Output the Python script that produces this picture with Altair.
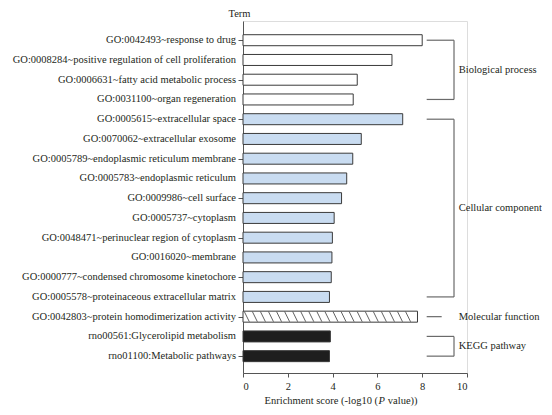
import altair as alt
import pandas as pd

# ---------------- data ----------------
terms = [
    "GO:0042493~response to drug",
    "GO:0008284~positive regulation of cell proliferation",
    "GO:0006631~fatty acid metabolic process",
    "GO:0031100~organ regeneration",
    "GO:0005615~extracellular space",
    "GO:0070062~extracellular exosome",
    "GO:0005789~endoplasmic reticulum membrane",
    "GO:0005783~endoplasmic reticulum",
    "GO:0009986~cell surface",
    "GO:0005737~cytoplasm",
    "GO:0048471~perinuclear region of cytoplasm",
    "GO:0016020~membrane",
    "GO:0000777~condensed chromosome kinetochore",
    "GO:0005578~proteinaceous extracellular matrix",
    "GO:0042803~protein homodimerization activity",
    "rno00561:Glycerolipid metabolism",
    "rno01100:Metabolic pathways",
]
scores = [8.0, 6.65, 5.1, 4.92, 7.13, 5.28, 4.90, 4.63, 4.40, 4.07,
          3.99, 3.97, 3.94, 3.86, 7.79, 3.90, 3.86]
groups = (["Biological process"] * 4 + ["Cellular component"] * 10
          + ["Molecular function"] * 1 + ["KEGG pathway"] * 2)
group_names = ["Biological process", "Cellular component",
               "Molecular function", "KEGG pathway"]
group_fill = ["#ffffff", "#c9dcf1", "#ffffff", "#1e1e1e"]

df = pd.DataFrame({"term": terms, "score": scores, "group": groups,
                   "idx": list(range(len(terms)))})

# hatch texture for the molecular-function bar (decoration derived from its value)
hatch_rows = []
for i, (v, g) in enumerate(zip(scores, groups)):
    if g == "Molecular function":
        s = 0.06
        while s + 0.24 <= v - 0.02:
            hatch_rows.append({"idx": i, "x0": s, "x1": s + 0.22})
            s += 0.36
hatch_df = pd.DataFrame(hatch_rows)

# bracket annotations derived from group membership
BR_X0, BR_X1, BR_SINGLE, TXT_X = 8.2, 9.42, 8.87, 9.63
br_rows, vert_rows, txt_rows = [], [], []
for g in group_names:
    ids = [i for i, gg in enumerate(groups) if gg == g]
    first, last = min(ids), max(ids)
    txt_rows.append({"label": g, "mid": (first + last) / 2, "xt": TXT_X})
    if first == last:
        br_rows.append({"idx": first, "x0": BR_X0, "x1": BR_SINGLE})
    else:
        br_rows.append({"idx": first, "x0": BR_X0, "x1": BR_X1})
        br_rows.append({"idx": last, "x0": BR_X0, "x1": BR_X1})
        vert_rows.append({"a": first, "b": last, "x": BR_X1})
br_df = pd.DataFrame(br_rows)
vert_df = pd.DataFrame(vert_rows)
txt_df = pd.DataFrame(txt_rows)

# ---------------- styling ----------------
FONT = "Liberation Serif"
TXT = "#231f20"
AX = "#555555"
W, H = 224, 352
FS = 10.5

xscale = alt.Scale(domain=[0, 10], nice=False, zero=True)
yscale = alt.Scale(domain=[-0.72, 16.6], reverse=True, nice=False, zero=False)

x_axis = alt.Axis(values=[0, 2, 4, 6, 8, 10], title=None, grid=False,
                  tickSize=4, labelPadding=4, labelFont=FONT, labelFontSize=FS,
                  labelColor=TXT, domainColor=AX, tickColor=AX)
y_axis = alt.Axis(values=list(range(len(terms))), labels=False,
                  grid=False, tickSize=5, domainColor=AX, tickColor=AX,
                  title="Term", titleAngle=0, titleAlign="center",
                  titleBaseline="bottom", titleX=-4, titleY=-3,
                  titleFont=FONT, titleFontSize=FS, titleFontWeight="normal",
                  titleColor=TXT)

bars = alt.Chart(df).mark_bar(size=11, orient="horizontal", stroke="#3a3a3a",
                              strokeWidth=1).encode(
    x=alt.X("score:Q", scale=xscale, axis=x_axis),
    y=alt.Y("idx:Q", scale=yscale, axis=y_axis),
    fill=alt.Fill("group:N", scale=alt.Scale(domain=group_names, range=group_fill),
                  legend=None),
)

# term labels (left of the y axis)
labels = alt.Chart(df).mark_text(align="right", baseline="middle", font=FONT,
                                 fontSize=FS, color=TXT, dx=-7).encode(
    x=alt.datum(0, scale=xscale),
    y=alt.Y("idx:Q", scale=yscale),
    text="term:N",
)

hatch = alt.Chart(hatch_df).mark_rule(color="#3a3a3a", strokeWidth=0.8,
                                      yOffset=-5, y2Offset=5).encode(
    x=alt.X("x0:Q", scale=xscale), x2="x1:Q",
    y=alt.Y("idx:Q", scale=yscale), y2="idx:Q",
)

br_h = alt.Chart(br_df).mark_rule(color="#6a6a6a", strokeWidth=1.2).encode(
    x=alt.X("x0:Q", scale=xscale), x2="x1:Q",
    y=alt.Y("idx:Q", scale=yscale),
)
br_v = alt.Chart(vert_df).mark_rule(color="#6a6a6a", strokeWidth=1.2).encode(
    x=alt.X("x:Q", scale=xscale),
    y=alt.Y("a:Q", scale=yscale), y2="b:Q",
)
br_t = alt.Chart(txt_df).mark_text(align="left", baseline="middle", font=FONT,
                                   fontSize=FS, color=TXT).encode(
    x=alt.X("xt:Q", scale=xscale),
    y=alt.Y("mid:Q", scale=yscale),
    text="label:N",
)

# x-axis title in three pieces so that P can be italic
title_parts = pd.DataFrame({"junction": [6.05]})
t_base = alt.Chart(title_parts)
t1 = t_base.mark_text(align="right", baseline="middle", font=FONT, fontSize=FS,
                      color=TXT, dx=-0.5).encode(
    x=alt.X("junction:Q", scale=xscale), y=alt.value(H + 28),
    text=alt.value("Enrichment score (-log10 ("))
t2 = t_base.mark_text(align="left", baseline="middle", font=FONT, fontSize=FS,
                      fontStyle="italic", color=TXT, dx=0).encode(
    x=alt.X("junction:Q", scale=xscale), y=alt.value(H + 28),
    text=alt.value("P"))
t3 = t_base.mark_text(align="left", baseline="middle", font=FONT, fontSize=FS,
                      color=TXT, dx=9.3).encode(
    x=alt.X("junction:Q", scale=xscale), y=alt.value(H + 28),
    text=alt.value("value))"))

chart = alt.layer(bars, labels, hatch, br_h, br_v, br_t, t1, t2, t3).properties(
    width=W, height=H,
    padding={"left": 4, "top": 0, "right": 0, "bottom": 0},
).configure_view(strokeWidth=0).configure(background="#ffffff")

chart.save("out.html", embed_options={"renderer": "svg", "actions": False})
